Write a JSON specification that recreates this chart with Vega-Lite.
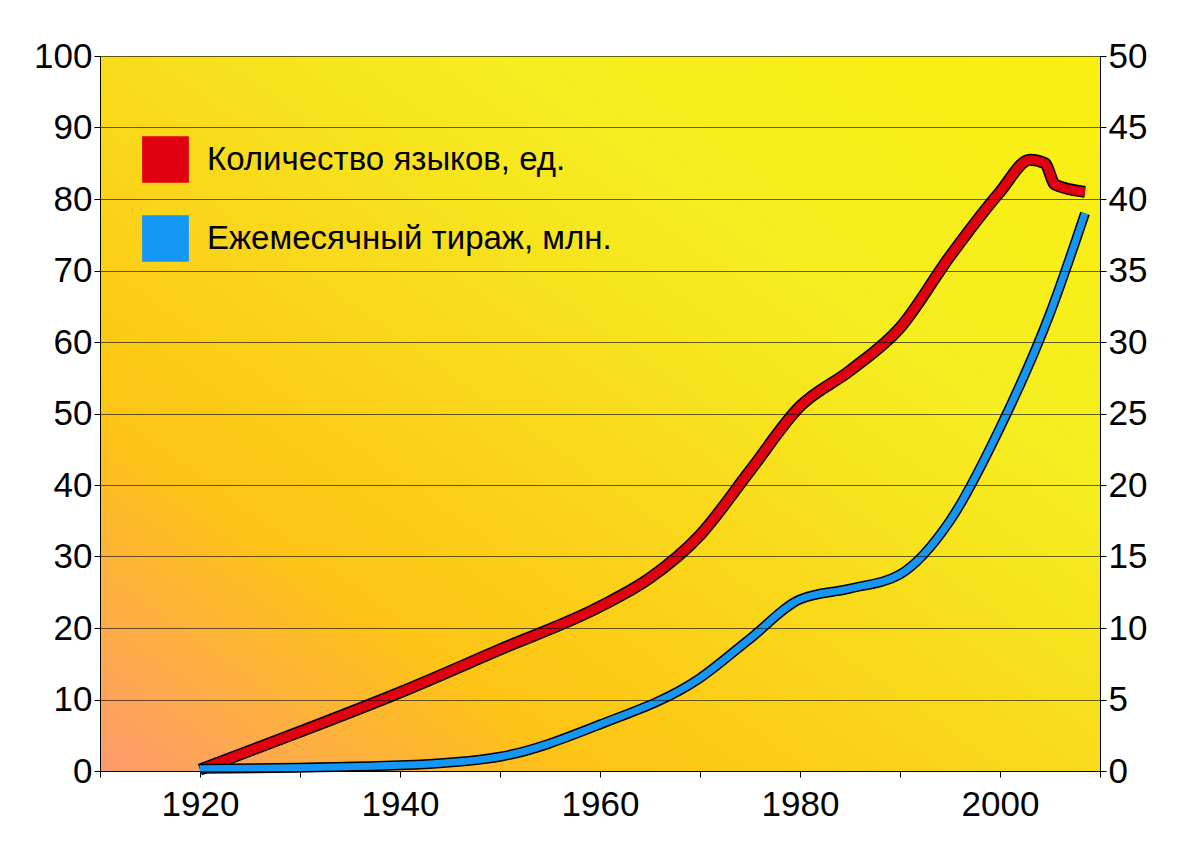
{
  "$schema": "https://vega.github.io/schema/vega-lite/v6.json",
  "autosize": "none",
  "width": 1000,
  "height": 715,
  "padding": {"left": 100, "top": 56, "right": 100, "bottom": 81},
  "background": "white",
  "config": {
    "view": {"stroke": null},
    "font": "Liberation Sans",
    "axis": {"labelFontSize": 35, "labelColor": "black", "domainColor": "black", "tickColor": "black", "titleFontSize": 0}
  },
  "datasets": {
    "series": [
      {"year": 1920, "series": "Количество языков, ед.", "value": 0.2},
      {"year": 1930, "series": "Количество языков, ед.", "value": 5.5},
      {"year": 1940, "series": "Количество языков, ед.", "value": 11},
      {"year": 1950, "series": "Количество языков, ед.", "value": 17},
      {"year": 1960, "series": "Количество языков, ед.", "value": 23},
      {"year": 1965, "series": "Количество языков, ед.", "value": 27},
      {"year": 1970, "series": "Количество языков, ед.", "value": 33},
      {"year": 1975, "series": "Количество языков, ед.", "value": 42},
      {"year": 1980, "series": "Количество языков, ед.", "value": 51},
      {"year": 1985, "series": "Количество языков, ед.", "value": 56},
      {"year": 1990, "series": "Количество языков, ед.", "value": 62},
      {"year": 1995, "series": "Количество языков, ед.", "value": 72},
      {"year": 2000, "series": "Количество языков, ед.", "value": 81},
      {"year": 2003, "series": "Количество языков, ед.", "value": 85.5},
      {"year": 2004.5, "series": "Количество языков, ед.", "value": 85},
      {"year": 2005.5, "series": "Количество языков, ед.", "value": 82},
      {"year": 2008.5, "series": "Количество языков, ед.", "value": 81},
      {"year": 1920, "series": "Ежемесячный тираж, млн.", "value": 0.15},
      {"year": 1940, "series": "Ежемесячный тираж, млн.", "value": 0.4},
      {"year": 1950, "series": "Ежемесячный тираж, млн.", "value": 1},
      {"year": 1960, "series": "Ежемесячный тираж, млн.", "value": 3.25},
      {"year": 1970, "series": "Ежемесячный тираж, млн.", "value": 6.5},
      {"year": 1975, "series": "Ежемесячный тираж, млн.", "value": 9.25},
      {"year": 1980, "series": "Ежемесячный тираж, млн.", "value": 12},
      {"year": 1985, "series": "Ежемесячный тираж, млн.", "value": 12.75},
      {"year": 1990, "series": "Ежемесячный тираж, млн.", "value": 13.75},
      {"year": 1995, "series": "Ежемесячный тираж, млн.", "value": 17.5},
      {"year": 2000, "series": "Ежемесячный тираж, млн.", "value": 24},
      {"year": 2005, "series": "Ежемесячный тираж, млн.", "value": 32},
      {"year": 2008.5, "series": "Ежемесячный тираж, млн.", "value": 39}
    ]
  },
  "layer": [
    {
      "data": {"values": [{"x0": 1910, "x1": 2010, "y0": 0, "y1": 100}]},
      "mark": {"type": "rect", "color": {"gradient": "linear", "x1": 0, "y1": 1, "x2": 1, "y2": 0,
        "stops": [{"offset": 0, "color": "#fd9a6e"}, {"offset": 0.25, "color": "#fdc414"}, {"offset": 0.7, "color": "#f5ee20"}, {"offset": 1, "color": "#f9ef10"}]}},
      "encoding": {
        "x": {"field": "x0", "type": "quantitative", "scale": {"domain": [1910, 2010], "nice": false},
          "axis": {"values": [1910, 1920, 1930, 1940, 1950, 1960, 1970, 1980, 1990, 2000, 2010], "labelExpr": "datum.value % 20 == 0 ? datum.label : ''", "format": "d", "grid": false, "tickSize": 6, "labelPadding": 10, "title": null}},
        "x2": {"field": "x1"},
        "y": {"field": "y0", "type": "quantitative", "scale": {"domain": [0, 100], "nice": false},
          "axis": {"values": [0, 10, 20, 30, 40, 50, 60, 70, 80, 90, 100], "grid": true, "zindex": 1, "gridColor": "black", "gridOpacity": 0.6, "gridWidth": 1, "tickSize": 6, "title": null}},
        "y2": {"field": "y1"}
      }
    },
    {
      "layer": [
        {
          "data": {"name": "series"},
          "transform": [{"filter": "datum.series == 'Количество языков, ед.'"}],
          "mark": {"type": "line", "interpolate": "monotone", "color": "black", "strokeWidth": 12},
          "encoding": {
            "x": {"field": "year", "type": "quantitative"},
            "y": {"field": "value", "type": "quantitative", "scale": {"domain": [0, 100]}, "axis": null}
          }
        },
        {
          "data": {"name": "series"},
          "transform": [{"filter": "datum.series == 'Количество языков, ед.'"}],
          "mark": {"type": "line", "interpolate": "monotone", "strokeWidth": 9},
          "encoding": {
            "x": {"field": "year", "type": "quantitative"},
            "y": {"field": "value", "type": "quantitative", "scale": {"domain": [0, 100]}, "axis": null},
            "color": {"field": "series", "type": "nominal",
              "scale": {"domain": ["Количество языков, ед.", "Ежемесячный тираж, млн."], "range": ["#e00010", "#1496f5"]},
              "legend": {"orient": "none", "legendX": 42, "legendY": 80, "title": null, "symbolType": "square", "symbolSize": 2000,
                "labelFontSize": 33, "labelColor": "black", "labelLimit": 0, "rowPadding": 26, "labelOffset": 18,
                "symbolStrokeColor": "black", "symbolStrokeWidth": 2,
                "encode": {"symbols": {"update": {"fill": {"scale": "color", "field": "value"}, "stroke": {"value": "black"}, "strokeWidth": {"value": 2}, "fillOpacity": {"value": 1}}}}}}
          }
        }
      ]
    },
    {
      "layer": [
        {
          "data": {"name": "series"},
          "transform": [{"filter": "datum.series == 'Ежемесячный тираж, млн.'"}],
          "mark": {"type": "line", "interpolate": "monotone", "color": "black", "strokeWidth": 10},
          "encoding": {
            "x": {"field": "year", "type": "quantitative"},
            "y": {"field": "value", "type": "quantitative", "scale": {"domain": [0, 50], "nice": false},
              "axis": {"orient": "right", "values": [0, 5, 10, 15, 20, 25, 30, 35, 40, 45, 50], "grid": false, "tickSize": 6, "title": null}}
          }
        },
        {
          "data": {"name": "series"},
          "transform": [{"filter": "datum.series == 'Ежемесячный тираж, млн.'"}],
          "mark": {"type": "line", "interpolate": "monotone", "strokeWidth": 7},
          "encoding": {
            "x": {"field": "year", "type": "quantitative"},
            "y": {"field": "value", "type": "quantitative"},
            "color": {"field": "series", "type": "nominal"}
          }
        }
      ]
    }
  ],
  "resolve": {"scale": {"y": "independent"}}
}
